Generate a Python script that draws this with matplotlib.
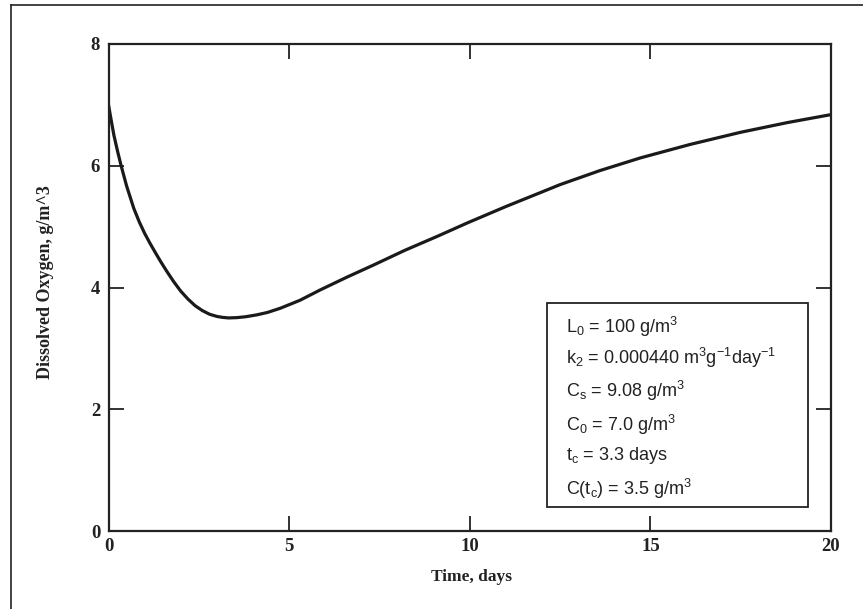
import matplotlib
matplotlib.use("Agg")
import matplotlib.pyplot as plt
from matplotlib.lines import Line2D

# Data
time_days = [0.0, 0.08, 0.15, 0.25, 0.35, 0.5, 0.7, 0.85, 1.0, 1.15, 1.3, 1.45, 1.62, 1.8,
             2.0, 2.2, 2.4, 2.6, 2.8, 3.0, 3.15, 3.32, 3.55, 3.8, 4.1, 4.4, 4.76, 5.3,
             5.86, 6.6, 7.34, 8.2, 9.1, 9.93, 11.0, 11.96, 12.5, 13.6, 14.73, 16.1,
             17.5, 18.8, 20.0]
dissolved_oxygen = [7.0, 6.73, 6.5, 6.24, 6.0, 5.67, 5.30, 5.08, 4.89, 4.725, 4.57, 4.42, 4.26, 4.10,
                    3.94, 3.81, 3.70, 3.62, 3.56, 3.525, 3.51, 3.50, 3.505, 3.52, 3.55, 3.59, 3.66, 3.79,
                    3.96, 4.17, 4.37, 4.61, 4.84, 5.06, 5.33, 5.56, 5.69, 5.92, 6.13, 6.35,
                    6.55, 6.71, 6.84]

x_ticks = [0, 5, 10, 15, 20]
y_ticks = [0, 2, 4, 6, 8]
x_label = "Time, days"
y_label = "Dissolved Oxygen, g/m^3"

info_lines = [
    r"L$_\mathrm{0}$ = 100 g/m$^\mathrm{3}$",
    r"k$_\mathrm{2}$ = 0.000440 m$^\mathrm{3}$g$^\mathrm{-1}$day$^\mathrm{-1}$",
    r"C$_\mathrm{s}$ = 9.08 g/m$^\mathrm{3}$",
    r"C$_\mathrm{0}$ = 7.0 g/m$^\mathrm{3}$",
    r"t$_\mathrm{c}$ = 3.3 days",
    r"C(t$_\mathrm{c}$) = 3.5 g/m$^\mathrm{3}$",
]

plt.rcParams["mathtext.fontset"] = "custom"
plt.rcParams["mathtext.rm"] = "Liberation Sans"
plt.rcParams["mathtext.it"] = "Liberation Sans:italic"
plt.rcParams["mathtext.bf"] = "Liberation Sans:bold"

W, H = 863, 609
fig = plt.figure(figsize=(W / 100, H / 100), dpi=100)

def fx(px):
    return px / W

def fy(py):
    return 1 - py / H

ax = fig.add_axes([fx(108.5), fy(531), fx(831) - fx(108.5), fy(44) - fy(531)])
ax.plot(time_days, dissolved_oxygen, color="#1a1a1a", lw=2.3,
        solid_capstyle="round", solid_joinstyle="round")
ax.set_xlim(0, 20)
ax.set_ylim(0, 8)
ax.set_xticks(x_ticks)
ax.set_yticks(y_ticks)
ax.tick_params(direction="in", length=11, width=1.3, top=True, right=True,
               colors="#222222", labelcolor="#222222")
ax.tick_params(axis="x", pad=5)
ax.tick_params(axis="y", pad=6)
for lab in ax.get_xticklabels() + ax.get_yticklabels():
    lab.set_fontfamily("Liberation Serif")
    lab.set_fontweight("bold")
    lab.set_fontsize(13.5)
for sp in ax.spines.values():
    sp.set_linewidth(1.6)
    sp.set_color("#222222")

fig.text(fx(471), fy(577), x_label, ha="center", va="center",
         fontfamily="Liberation Serif", fontweight="bold", fontsize=12.5, color="#222222")
fig.text(fx(45), fy(282), y_label, ha="center", va="center", rotation=90,
         fontfamily="Liberation Serif", fontweight="bold", fontsize=13, color="#222222")

# info box
box_l, box_t, box_r, box_b = 547, 303, 808, 507
fig.add_artist(plt.Rectangle((fx(box_l), fy(box_b)), fx(box_r) - fx(box_l), fy(box_t) - fy(box_b),
                             transform=fig.transFigure, fill=False, lw=1.3, ec="#222222"))
line_y = [327, 358, 391, 425, 456, 489]
for s, yy in zip(info_lines, line_y):
    fig.text(fx(566), fy(yy), s, ha="left", va="center", fontfamily="Liberation Sans",
             fontsize=13, color="#222222")

# outer frame (left and top edges)
fig.add_artist(Line2D([fx(11), fx(11)], [fy(5), 0], transform=fig.transFigure, color="#222222", lw=1.2))
fig.add_artist(Line2D([fx(11), 1], [fy(5), fy(5)], transform=fig.transFigure, color="#222222", lw=1.2))

fig.savefig("out.png", dpi=100)
